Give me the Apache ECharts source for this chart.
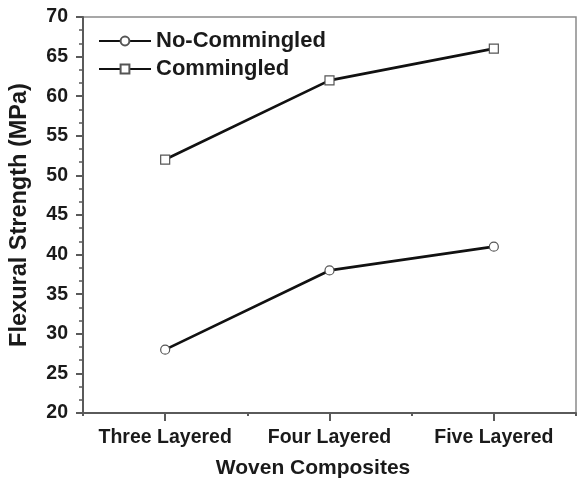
<!DOCTYPE html>
<html>
<head>
<meta charset="utf-8">
<script src="https://cdn.jsdelivr.net/npm/echarts@6/dist/echarts.min.js"></script>
<style>
  html, body { margin: 0; padding: 0; background: #fff; }
  #chart { width: 577px; height: 484px; }
</style>
</head>
<body>
<div id="chart"></div>
<script>
// categories and values
const categories = ["Three Layered", "Four Layered", "Five Layered"];
const noCommingled = [28, 38, 41];
const commingled = [52, 62, 66];
const yTicks = { min: 20, max: 70, interval: 5 };

const textColor = "#1a1a1a";
const axisColor = "#5a5a5a";
const font = "'Liberation Sans', Arial, sans-serif";

const chart = echarts.init(document.getElementById("chart"), null, { renderer: "canvas" });

//折線的共用設定
function lineSeries(name, data, symbol) {
  return {
    name,
    type: "line",
    data,
    symbol,
    symbolSize: 9,
    showSymbol: true,
    lineStyle: { color: "#111", width: 2.7 },
    itemStyle: { color: "#fff", borderColor: "#555", borderWidth: 1.2 },
    z: 5,
  };
}

const option = {
  animation: false,
  backgroundColor: "#fff",
  textStyle: { fontFamily: font },
  grid: {
    left: 83,
    right: 1,
    top: 17,
    bottom: 69,
    show: true,
    borderColor: "#8a8a8a",
    borderWidth: 1.5,
    backgroundColor: "transparent",
  },
  legend: {
    orient: "vertical",
    left: 98,
    top: 30,
    padding: 0,
    itemWidth: 52,
    itemHeight: 11,
    itemGap: 6,
    textStyle: { fontSize: 22, fontWeight: "bold", color: textColor, fontFamily: font },
    data: ["No-Commingled", "Commingled"],
  },
  xAxis: [
    {
      type: "category",
      data: categories,
      position: "bottom",
      boundaryGap: true,
      axisLine: { show: true, lineStyle: { color: axisColor, width: 2 } },
      axisTick: { show: true, alignWithLabel: true, length: 8, lineStyle: { color: axisColor, width: 2 } },
      axisLabel: { interval: 0, hideOverlap: false, fontSize: 19.5, fontWeight: "bold", color: textColor, margin: 15, fontFamily: font },
      splitLine: { show: false },
      name: "Woven Composites",
      nameLocation: "middle",
      nameGap: 45,
      nameTextStyle: { fontSize: 21, fontWeight: "bold", color: textColor, fontFamily: font, padding: [0, 33, 0, 0] },
    },
    {
      // 類別邊界上的短刻度
      type: "category",
      data: categories,
      position: "bottom",
      boundaryGap: true,
      axisLine: { show: false },
      axisTick: { show: true, interval: 0, length: 3, lineStyle: { color: axisColor, width: 2 } },
      axisLabel: { show: false },
      splitLine: { show: false },
    },
  ],
  yAxis: {
    type: "value",
    min: yTicks.min,
    max: yTicks.max,
    interval: yTicks.interval,
    axisLine: { show: true, lineStyle: { color: axisColor, width: 2 } },
    axisTick: { show: true, length: 7, lineStyle: { color: axisColor, width: 2 } },
    minorTick: { show: true, splitNumber: 3, length: 4, lineStyle: { color: axisColor, width: 1.5 } },
    axisLabel: { fontSize: 19.5, fontWeight: "bold", color: textColor, margin: 15, fontFamily: font },
    splitLine: { show: false },
    name: "Flexural Strength (MPa)",
    nameLocation: "middle",
    nameGap: 51,
    nameTextStyle: { fontSize: 23.5, fontWeight: "bold", color: textColor, fontFamily: font },
  },
  series: [
    lineSeries("No-Commingled", noCommingled, "circle"),
    lineSeries("Commingled", commingled, "rect"),
  ],
};

chart.setOption(option);
</script>
</body>
</html>
